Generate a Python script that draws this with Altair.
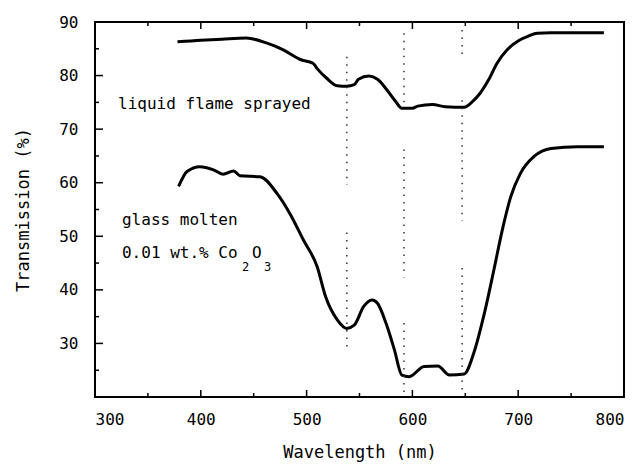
import altair as alt
import pandas as pd

# ---- data ----
upper_wl = [378, 400, 420, 443, 462, 478, 494, 506, 510, 519, 529, 538, 545, 549, 559, 567, 576, 584, 590,
            600, 605, 619, 631, 649, 656, 664, 672, 680, 690, 701, 710, 718, 731, 781]
upper_T = [86.3, 86.6, 86.8, 87.0, 86.1, 84.8, 83.0, 82.3, 81.3, 79.5, 78.1, 78.0, 78.3, 79.3, 79.9, 79.3, 77.3, 75.2, 73.9,
           73.9, 74.3, 74.6, 74.2, 74.1, 75.0, 76.7, 79.2, 82.3, 84.9, 86.6, 87.4, 87.9, 88.0, 88.0]

lower_wl = [379, 387, 399, 412, 421, 431, 437, 456, 472, 484, 497, 510, 518, 529, 538, 545, 554, 562, 567, 575,
            583, 590, 597, 611, 624, 635, 649, 658, 668, 677, 685, 693, 702, 715, 731, 756, 781]
lower_T = [59.3, 62.1, 63.0, 62.4, 61.6, 62.2, 61.3, 61.1, 58.0, 54.3, 49.3, 44.3, 38.7, 34.4, 32.8, 33.4, 36.9, 38.1, 37.5, 33.8,
           28.8, 24.1, 23.8, 25.7, 25.8, 24.1, 24.3, 28.2, 35.6, 43.7, 51.2, 57.4, 61.7, 64.9, 66.4, 66.7, 66.7]

# dotted marker segments
dot_wl = [538, 538, 592, 592, 592, 647, 647, 647]
dot_T1 = [83.5, 50.7, 87.9, 66.2, 33.8, 88.5, 75.4, 44.1]
dot_T2 = [59.6, 28.5, 74.8, 42.3, 20.7, 83.8, 52.9, 20.7]

x_ticks = [300, 400, 500, 600, 700, 800]
y_ticks = [30, 40, 50, 60, 70, 80, 90]
x_major_inner = [400, 500, 600, 700]
x_minor = [350, 450, 550, 650, 750]
y_major_inner = [30, 40, 50, 60, 70, 80]
y_minor = [25, 35, 45, 55, 65, 75, 85]

ann_text = ["liquid flame sprayed", "glass molten", "0.01 wt.% Co"]
ann_wl = [321.8, 325.5, 325.5]
ann_T = [73.8, 52.1, 45.9]

FONT = "DejaVu Sans Mono"

xs = alt.Scale(domain=[300, 800], nice=False, zero=False)
ys = alt.Scale(domain=[20, 90], nice=False, zero=False)
xa = alt.Axis(values=x_ticks, format="d", title="Wavelength (nm)",
              labelPadding=14, titleY=60, titleBaseline="alphabetic")
ya = alt.Axis(values=y_ticks, format="d", title="Transmission (%)",
              labelPadding=17, titleX=-67, titleY=187.5, titleAngle=270,
              titleAlign="center", titleBaseline="alphabetic")


def X(field):
    return alt.X(field, scale=xs, axis=xa, title="Wavelength (nm)")


def Y(field):
    return alt.Y(field, scale=ys, axis=ya, title="Transmission (%)")


curves = pd.DataFrame(
    {"wl": upper_wl + lower_wl,
     "T": upper_T + lower_T,
     "series": ["liquid flame sprayed"] * len(upper_wl) + ["glass molten"] * len(lower_wl)}
)

lines = alt.Chart(curves).mark_line(color="black", strokeWidth=3, interpolate="monotone").encode(
    x=X("wl:Q"), y=Y("T:Q"), detail="series:N", order="wl:Q")

dots_df = pd.DataFrame({"wl": dot_wl, "T1": dot_T1, "T2": dot_T2})
dots = alt.Chart(dots_df).mark_rule(color="#333", strokeWidth=1.5, strokeDash=[1.5, 6]).encode(
    x=X("wl:Q"), y=Y("T1:Q"), y2="T2:Q")


def xtick_layer(vals, length, top):
    df = pd.DataFrame({"wl": vals})
    y0, y1 = (0, length) if top else (375, 375 - length)
    return alt.Chart(df).mark_rule(color="black", strokeWidth=1.5).encode(
        x=X("wl:Q"), y=alt.value(y0), y2=alt.value(y1))


def ytick_layer(vals, length):
    df = pd.DataFrame({"T": vals})
    return alt.Chart(df).mark_rule(color="black", strokeWidth=1.5).encode(
        y=Y("T:Q"), x=alt.value(0), x2=alt.value(length))


ticks = [
    xtick_layer(x_major_inner, 7, False), xtick_layer(x_minor, 4, False),
    xtick_layer(x_major_inner, 7, True), xtick_layer(x_minor, 4, True),
    ytick_layer(y_major_inner, 8), ytick_layer(y_minor, 4),
]

ann_df = pd.DataFrame({"wl": ann_wl, "T": ann_T, "label": ann_text})
ann = alt.Chart(ann_df).mark_text(align="left", baseline="alphabetic", font=FONT, fontSize=16, color="black").encode(
    x=X("wl:Q"), y=Y("T:Q"), text="label:N")

sub_df = pd.DataFrame({"wl": [325.5], "T": [45.9], "Tsub": [43.5]})
s2 = alt.Chart(sub_df).mark_text(align="left", baseline="alphabetic", font=FONT, fontSize=12, color="black",
                                 dx=120, text="2").encode(x=X("wl:Q"), y=Y("Tsub:Q"))
sO = alt.Chart(sub_df).mark_text(align="left", baseline="alphabetic", font=FONT, fontSize=16, color="black",
                                 dx=130, text="O").encode(x=X("wl:Q"), y=Y("T:Q"))
s3 = alt.Chart(sub_df).mark_text(align="left", baseline="alphabetic", font=FONT, fontSize=12, color="black",
                                 dx=142, text="3").encode(x=X("wl:Q"), y=Y("Tsub:Q"))

chart = alt.layer(lines, dots, *ticks, ann, s2, sO, s3).properties(
    width=529, height=375,
    autosize=alt.AutoSizeParams(type="none"),
    padding={"left": 95, "top": 22, "right": 13, "bottom": 67},
    background="white",
).configure_axis(
    grid=False, domain=False, ticks=False, tickSize=0,
    labelFont=FONT, labelFontSize=16, labelColor="black",
    titleFont=FONT, titleFontSize=17, titleFontWeight="normal", titleColor="black",
).configure_view(stroke="black", strokeWidth=2)

chart.save("out.html", embed_options={"renderer": "svg", "actions": False})
